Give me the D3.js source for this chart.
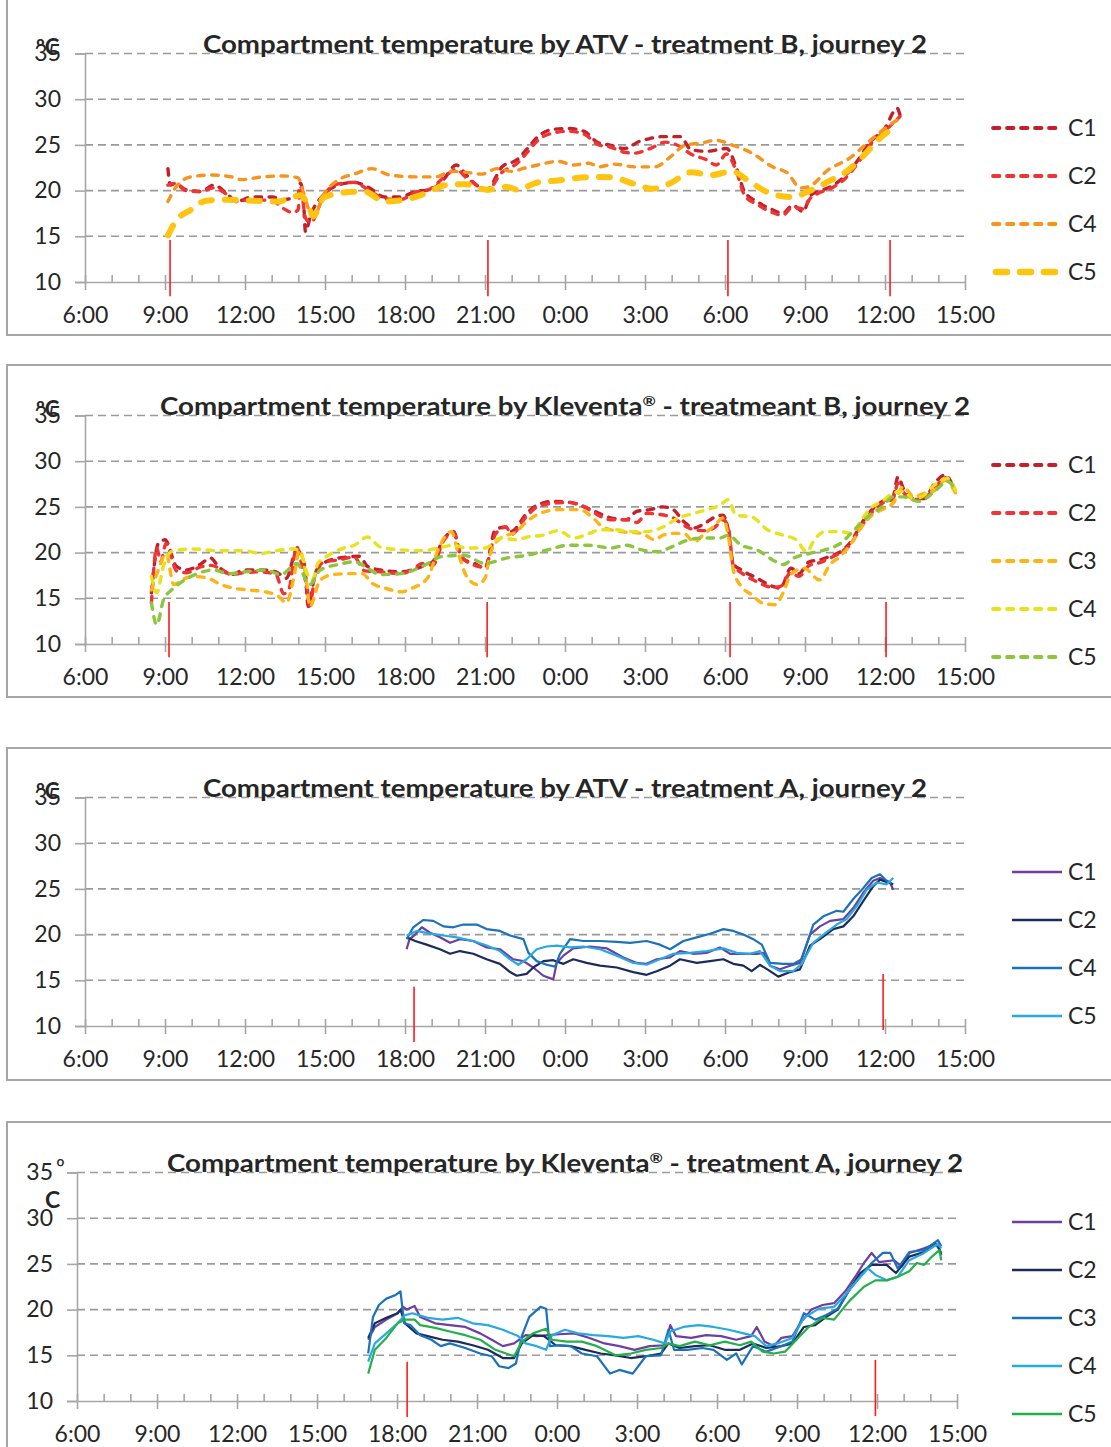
<!DOCTYPE html>
<html>
<head>
<meta charset="utf-8">
<script src="https://cdn.jsdelivr.net/npm/d3@7"></script>
<style>
  body { margin: 0; background: #fff; }
  svg { display: block; }
  text { font-family: Lato, "Open Sans", "Liberation Sans", sans-serif; fill: #262626; }
</style>
</head>
<body>
<svg id="chart" width="1111" height="1447"></svg>
<script>
// Axis ticks: hours counted from 0:00 of the first day (24+ = next day)
const hourTicks = [6, 9, 12, 15, 18, 21, 24, 27, 30, 33, 36, 39];
const minorHours = d3.range(6, 40).filter(h => h % 3 !== 0);
const tempTicks = [10, 15, 20, 25, 30, 35];

// ---- ATV, treatment B: [hour, °C]
const atvB_C1 = [[9.11,22.4],[9.2,20.6],[9.39,20.8],[9.78,20.1],[10.35,19.9],[10.83,20.6],[11.31,19.7],[11.69,18.8],[12.26,19.3],[13.03,19.3],[13.41,19.0],[13.99,19.5],[14.08,20.8],[14.18,19.5],[14.27,15.5],[14.46,17.3],[14.94,19.5],[15.33,20.4],[16.09,20.9],[16.66,20.3],[17.24,19.3],[17.81,19.3],[18.39,19.9],[18.96,20.1],[19.44,21.2],[19.92,22.8],[20.3,21.7],[20.68,20.6],[21.06,20.1],[21.64,22.6],[22.21,23.4],[22.59,24.6],[22.98,25.9],[23.55,26.7],[24.13,26.8],[24.7,26.5],[25.27,25.2],[25.66,25.0],[26.23,24.6],[26.8,25.4],[27.19,25.7],[27.57,25.9],[28.33,25.9],[28.72,24.5],[29.29,24.3],[30.06,24.6],[30.44,22.4],[30.73,19.9],[31.2,18.8],[31.78,17.9],[32.16,17.5],[32.54,18.4],[32.93,17.7],[33.21,19.5],[33.5,19.9],[34.07,20.6],[34.46,21.5],[35.03,23.5],[35.41,25.2],[35.99,26.8],[36.46,29.0],[36.56,28.3]];
const atvB_C2 = [[9.11,20.6],[9.39,20.8],[9.78,20.0],[10.35,19.9],[10.83,20.3],[11.31,19.6],[11.69,18.8],[12.26,19.0],[13.03,18.9],[13.41,18.1],[13.79,17.6],[13.99,17.9],[14.08,20.5],[14.27,17.0],[14.46,16.5],[14.94,19.3],[15.33,20.6],[16.09,20.9],[16.66,20.0],[17.24,19.1],[17.81,19.0],[18.39,19.8],[18.96,20.2],[19.44,21.4],[19.92,22.3],[20.3,21.4],[20.68,20.6],[21.06,20.0],[21.64,22.0],[22.21,23.0],[22.59,24.2],[22.98,25.5],[23.55,26.3],[24.13,26.5],[24.7,26.2],[25.27,25.0],[25.66,24.8],[26.23,24.2],[26.61,24.1],[27.19,24.6],[27.76,25.3],[28.33,24.8],[28.72,24.0],[29.29,23.4],[29.67,22.8],[30.06,24.0],[30.44,22.0],[30.73,19.5],[31.2,18.5],[31.78,17.6],[32.16,17.3],[32.54,18.2],[32.93,18.0],[33.21,19.2],[33.5,19.7],[34.07,20.4],[34.46,21.2],[35.03,23.2],[35.41,24.9],[35.99,26.5],[36.56,28.1]];
const atvB_C4 = [[9.11,18.8],[9.39,20.3],[9.97,21.5],[10.73,21.7],[11.5,21.5],[11.88,21.2],[12.65,21.5],[13.41,21.6],[13.99,21.4],[14.18,19.9],[14.37,18.1],[14.56,17.0],[14.94,19.5],[15.52,21.2],[16.09,21.8],[16.76,22.4],[17.43,21.7],[18.39,21.5],[19.15,21.5],[19.73,22.1],[20.3,22.0],[20.87,21.8],[21.45,22.4],[22.02,22.1],[22.4,22.4],[22.98,22.8],[23.74,23.2],[24.32,22.8],[24.89,23.0],[25.27,22.6],[25.85,22.9],[26.61,22.6],[27.38,22.6],[27.95,23.7],[28.53,25.0],[29.1,25.2],[29.67,25.5],[30.25,25.0],[31.01,24.1],[31.78,22.6],[32.35,21.9],[32.83,20.3],[33.12,20.4],[33.88,22.3],[34.65,23.5],[35.41,25.4],[35.99,26.8],[36.56,27.9]];
const atvB_C5 = [[9.11,15.1],[9.39,16.6],[9.97,17.9],[10.54,18.9],[11.31,19.0],[12.26,18.9],[13.22,18.8],[13.79,19.3],[14.08,19.5],[14.37,18.4],[14.56,17.2],[14.94,19.2],[15.71,19.8],[16.47,19.9],[17.24,18.8],[18.0,19.0],[18.77,19.7],[19.53,20.6],[20.3,20.7],[21.06,20.1],[21.83,20.4],[22.21,20.1],[22.98,20.9],[23.74,21.1],[24.51,21.4],[25.27,21.5],[25.85,21.4],[26.52,20.8],[27.28,20.2],[27.95,20.8],[28.72,22.0],[29.48,21.7],[30.25,22.1],[31.01,20.8],[31.78,19.6],[32.54,19.3],[33.12,19.9],[33.88,21.0],[34.65,22.3],[35.22,23.9],[35.8,25.7],[36.46,27.2]];
const atvB_marks = [9.19, 21.11, 30.11, 36.19];

// ---- Kleventa®, treatment B
const klvB_C1 = [[8.49,15.6],[8.75,21.0],[9.0,21.4],[9.43,18.5],[9.82,18.1],[10.31,18.7],[10.71,19.4],[11.0,18.5],[11.49,17.6],[11.98,18.1],[12.57,18.1],[13.16,17.9],[13.55,17.2],[13.94,20.3],[14.24,18.5],[14.37,14.1],[14.63,17.7],[14.92,18.8],[15.51,19.4],[16.3,19.6],[16.59,18.5],[17.08,18.1],[17.86,17.9],[18.26,18.1],[18.65,18.5],[19.04,19.0],[19.43,21.4],[19.82,22.3],[20.12,19.4],[20.61,18.8],[21.0,18.3],[21.39,22.5],[21.79,22.8],[21.98,22.3],[22.57,24.3],[22.96,25.2],[23.55,25.6],[24.14,25.5],[24.73,25.0],[25.12,24.5],[25.71,23.8],[26.3,23.6],[26.69,24.5],[27.18,24.7],[27.67,25.0],[28.06,24.7],[28.45,23.4],[28.84,22.7],[29.24,23.2],[29.63,23.9],[29.92,24.1],[30.12,22.5],[30.31,18.8],[30.61,18.1],[31.2,17.2],[31.79,16.3],[32.08,16.1],[32.47,18.3],[32.77,17.7],[33.16,19.0],[33.55,19.2],[33.94,19.6],[34.33,20.1],[34.73,21.2],[35.12,23.2],[35.51,24.7],[35.9,25.6],[36.3,26.1],[36.49,28.3],[36.69,27.0],[37.08,25.9],[37.47,25.9],[37.86,27.6],[38.26,28.5],[38.55,27.2]];
const klvB_C2 = [[8.49,14.5],[8.69,20.5],[8.84,19.0],[9.04,21.0],[9.24,19.5],[9.43,18.0],[9.82,17.8],[10.31,18.4],[10.71,18.6],[11.1,18.2],[11.49,17.6],[11.98,17.8],[12.57,17.9],[13.16,17.6],[13.45,15.5],[13.65,16.0],[13.84,19.5],[13.94,20.6],[14.14,18.5],[14.33,16.0],[14.43,14.2],[14.63,17.6],[14.92,18.9],[15.51,19.2],[16.1,19.5],[16.49,18.0],[17.08,17.9],[17.86,17.7],[18.26,18.1],[18.65,18.8],[19.04,18.6],[19.43,21.2],[19.82,22.2],[20.12,19.6],[20.61,18.6],[21.0,18.4],[21.39,22.0],[21.79,22.8],[21.98,22.0],[22.57,24.0],[22.96,25.0],[23.55,25.4],[24.14,25.5],[24.73,25.0],[25.12,24.3],[25.71,23.6],[26.3,23.6],[26.69,23.3],[27.08,24.3],[27.47,24.2],[28.06,23.8],[28.45,23.0],[28.84,22.5],[29.24,22.4],[29.63,22.8],[29.92,23.6],[30.12,22.8],[30.31,18.6],[30.61,17.8],[31.2,16.8],[31.79,16.2],[32.08,16.3],[32.47,17.8],[32.77,17.4],[33.16,18.6],[33.55,18.9],[33.94,19.4],[34.33,20.0],[34.73,21.0],[35.12,22.9],[35.51,24.4],[35.9,25.4],[36.3,25.9],[36.49,27.6],[36.69,26.6],[37.08,25.8],[37.47,26.0],[37.86,27.0],[38.26,28.2],[38.55,27.0]];
const klvB_C3 = [[8.49,15.9],[8.75,18.1],[9.04,19.9],[9.33,16.5],[9.63,17.0],[10.02,17.4],[10.61,17.2],[11.1,16.5],[11.59,16.1],[12.18,15.9],[12.77,15.7],[13.26,15.2],[13.55,14.5],[13.84,17.4],[14.04,20.3],[14.33,16.3],[14.43,14.1],[14.82,17.0],[15.31,17.6],[15.9,17.7],[16.39,17.7],[16.79,16.6],[17.28,16.1],[17.86,15.7],[18.26,16.1],[18.84,17.2],[19.24,20.3],[19.73,22.3],[20.02,19.7],[20.31,17.4],[20.71,16.5],[21.0,17.2],[21.2,19.9],[21.59,21.6],[22.18,22.3],[22.57,23.4],[23.06,24.3],[23.75,24.7],[24.53,24.7],[25.12,23.6],[25.41,22.8],[26.1,22.3],[26.88,22.1],[27.37,21.4],[27.67,21.9],[28.06,22.1],[28.45,22.1],[28.84,21.2],[29.24,22.1],[29.63,23.0],[29.92,23.8],[30.12,21.9],[30.31,18.1],[30.61,16.3],[31.0,15.4],[31.39,14.5],[31.88,14.3],[32.18,15.6],[32.47,17.6],[32.96,18.3],[33.55,17.0],[33.94,18.7],[34.33,19.6],[34.73,21.0],[35.12,22.8],[35.51,24.1],[35.9,24.7],[36.3,25.4],[36.69,27.2],[37.08,26.1],[37.47,26.5],[37.86,26.8],[38.26,27.9],[38.65,26.5]];
const klvB_C4 = [[8.49,17.4],[8.69,15.6],[8.94,18.5],[9.24,20.1],[10.02,20.4],[11.0,20.2],[11.98,20.2],[12.57,19.9],[13.16,20.2],[13.84,20.4],[14.14,19.6],[14.33,17.7],[14.53,17.0],[14.73,18.8],[15.12,19.7],[15.71,20.5],[16.1,20.8],[16.59,21.7],[17.08,20.6],[17.86,20.3],[18.65,20.2],[19.24,20.5],[19.82,20.8],[20.31,20.5],[21.0,20.5],[21.59,21.6],[22.18,21.4],[22.57,21.7],[23.16,21.9],[23.75,22.4],[24.33,21.6],[24.92,22.1],[25.31,22.5],[25.9,22.5],[26.49,22.3],[27.08,22.3],[27.67,22.8],[28.26,23.8],[28.84,24.3],[29.43,24.8],[29.82,25.2],[30.12,25.8],[30.41,24.1],[31.0,23.9],[31.59,22.5],[32.18,21.9],[32.67,21.4],[33.06,20.1],[33.35,21.4],[33.75,22.3],[34.33,22.3],[34.73,22.1],[35.12,23.6],[35.51,25.0],[35.9,25.6],[36.3,26.5],[36.69,26.7],[37.08,25.8],[37.47,26.3],[37.86,27.4],[38.35,28.1],[38.65,26.8]];
const klvB_C5 = [[8.49,14.5],[8.69,12.1],[8.94,14.8],[9.24,15.9],[9.63,16.8],[10.22,17.7],[10.81,18.1],[11.39,17.7],[11.98,17.9],[12.77,18.1],[13.35,17.6],[13.94,18.8],[14.43,16.5],[14.82,18.1],[15.51,18.7],[16.1,19.0],[16.49,18.5],[17.08,17.6],[17.86,17.7],[18.65,18.5],[19.43,19.6],[20.22,19.7],[21.0,18.8],[21.79,19.4],[22.57,19.7],[23.35,20.3],[24.14,20.8],[24.92,20.8],[25.71,20.5],[26.3,20.8],[26.88,20.3],[27.47,20.1],[28.06,20.7],[28.65,21.4],[29.24,21.6],[29.82,21.6],[30.12,21.9],[30.61,20.8],[31.2,20.3],[31.79,19.2],[32.18,18.7],[32.57,19.4],[33.16,19.9],[33.75,20.3],[34.33,21.0],[34.92,22.7],[35.51,24.3],[35.9,25.0],[36.3,26.1],[36.69,26.1],[37.28,25.6],[37.86,26.7],[38.35,27.8],[38.65,26.7]];
const klvB_marks = [9.15, 21.08, 30.19, 36.04];

// ---- ATV, treatment A
const atvA_C1 = [[18.06,18.4],[18.17,19.5],[18.38,20.0],[18.63,20.8],[18.94,20.2],[19.31,19.7],[19.69,19.1],[20.06,19.5],[20.56,19.3],[21.06,18.6],[21.56,18.4],[22.06,17.3],[22.44,17.1],[22.81,16.4],[23.19,15.5],[23.56,15.1],[23.69,16.9],[23.94,17.7],[24.31,18.5],[24.94,18.7],[25.56,18.5],[26.19,17.5],[26.69,16.9],[27.06,16.8],[27.44,17.3],[27.94,17.5],[28.31,18.2],[28.81,17.9],[29.31,18.0],[29.81,18.6],[30.19,17.9],[30.69,17.9],[31.19,17.9],[31.44,18.0],[31.69,16.6],[32.06,16.2],[32.44,16.6],[32.81,16.9],[33.19,20.0],[33.56,20.9],[33.94,21.5],[34.44,21.7],[34.81,22.9],[35.19,24.6],[35.56,25.9],[35.81,26.2],[36.19,25.7],[36.31,24.9]];
const atvA_C2 = [[18.06,19.7],[18.38,19.3],[18.81,18.9],[19.31,18.4],[19.69,17.9],[20.06,18.2],[20.56,17.9],[21.06,17.3],[21.56,16.8],[21.94,15.9],[22.19,15.5],[22.56,15.7],[22.81,16.4],[23.19,17.1],[23.56,17.2],[23.94,16.8],[24.31,17.3],[24.81,16.9],[25.31,16.6],[25.94,16.4],[26.56,15.9],[27.06,15.6],[27.44,16.0],[27.94,16.6],[28.31,17.3],[28.94,16.9],[29.44,17.1],[29.94,17.3],[30.31,16.8],[30.69,16.6],[31.0,16.0],[31.31,16.7],[31.69,16.0],[32.0,15.4],[32.44,15.9],[32.81,16.2],[33.19,18.8],[33.56,19.5],[34.06,20.6],[34.44,20.9],[34.81,22.0],[35.19,23.7],[35.56,25.3],[35.81,26.0],[36.31,25.5]];
const atvA_C4 = [[18.06,19.5],[18.31,20.8],[18.69,21.6],[19.06,21.5],[19.44,20.9],[19.81,20.8],[20.19,21.1],[20.69,21.1],[21.06,20.6],[21.56,20.4],[21.94,19.9],[22.44,19.5],[22.63,18.0],[22.94,17.1],[23.31,16.7],[23.63,16.5],[23.81,17.9],[24.19,19.5],[24.69,19.3],[25.31,19.3],[25.94,19.2],[26.44,19.1],[27.06,19.3],[27.56,18.9],[27.94,18.4],[28.44,19.3],[28.94,19.7],[29.44,20.1],[29.94,20.6],[30.31,20.4],[30.69,20.0],[31.06,19.5],[31.38,18.9],[31.69,16.9],[32.19,16.8],[32.56,16.8],[32.88,17.3],[33.31,21.1],[33.69,22.0],[34.19,22.6],[34.44,22.5],[34.81,23.9],[35.19,25.1],[35.5,26.2],[35.81,26.6],[36.06,25.9],[36.25,25.6]];
const atvA_C5 = [[18.06,19.9],[18.44,20.4],[18.94,20.1],[19.44,19.9],[19.94,19.7],[20.56,19.3],[21.06,18.8],[21.56,18.2],[21.94,17.3],[22.25,16.7],[22.56,17.3],[22.94,18.4],[23.31,18.7],[23.69,18.8],[24.19,18.6],[24.69,18.7],[25.31,18.4],[25.94,17.7],[26.56,16.9],[27.06,16.7],[27.56,17.3],[28.06,17.9],[28.69,18.0],[29.31,18.2],[29.94,18.5],[30.44,18.0],[30.94,17.9],[31.31,18.2],[31.69,16.6],[32.06,16.0],[32.56,16.0],[32.88,16.8],[33.31,19.1],[33.69,20.0],[34.19,21.1],[34.56,21.7],[34.94,23.1],[35.31,24.9],[35.69,25.7],[36.06,25.5],[36.31,26.2]];
const atvA_marks = [18.34, 35.93];

// ---- Kleventa®, treatment A
const klvA_C1 = [[16.92,16.7],[17.17,18.1],[17.6,18.9],[18.02,19.6],[18.23,20.3],[18.37,20.0],[18.66,20.4],[18.87,19.2],[19.43,18.5],[19.98,18.3],[20.56,18.1],[21.12,17.4],[21.55,16.7],[21.97,16.0],[22.39,16.3],[22.82,17.2],[23.24,17.1],[23.66,17.2],[24.09,17.3],[24.65,17.4],[25.22,16.9],[25.78,16.3],[26.34,16.0],[26.91,15.6],[27.47,16.0],[28.04,16.1],[28.25,18.3],[28.46,17.1],[29.03,16.9],[29.59,17.2],[30.15,17.1],[30.72,16.7],[31.28,17.1],[31.49,18.1],[31.78,16.5],[32.13,16.0],[32.41,16.9],[32.83,17.1],[33.12,18.5],[33.54,20.0],[33.96,20.5],[34.39,20.7],[34.81,22.0],[35.23,23.8],[35.51,25.1],[35.8,26.2],[36.08,25.2],[36.64,25.4],[36.93,24.7],[37.21,26.2],[37.77,26.7],[38.2,27.2],[38.41,26.2]];
const klvA_C2 = [[16.92,16.9],[17.17,18.5],[17.6,19.1],[18.02,19.6],[18.13,20.0],[18.3,18.5],[18.73,17.4],[19.15,17.1],[19.71,16.7],[20.28,16.5],[20.84,16.1],[21.41,15.6],[21.97,14.7],[22.39,14.7],[22.68,16.3],[23.1,17.2],[23.52,17.1],[23.95,16.1],[24.51,16.0],[25.07,15.6],[25.64,15.2],[26.2,15.0],[26.77,14.7],[27.33,14.9],[27.9,15.2],[28.18,16.3],[28.6,15.8],[29.17,16.0],[29.73,16.1],[30.29,15.6],[30.86,15.6],[31.35,16.3],[31.85,15.8],[32.41,16.0],[32.83,16.3],[33.26,18.1],[33.68,18.3],[34.1,19.2],[34.53,20.0],[34.95,22.1],[35.37,24.0],[35.8,24.9],[36.36,24.9],[36.71,24.0],[37.21,25.8],[37.77,26.3],[38.27,27.2],[38.41,26.0]];
const klvA_C3 = [[16.92,15.2],[17.1,19.2],[17.32,20.5],[17.6,21.2],[17.95,21.6],[18.13,22.0],[18.27,18.5],[18.51,18.3],[18.87,17.2],[19.29,16.7],[19.64,16.0],[19.98,16.3],[20.56,15.8],[21.12,15.2],[21.55,14.9],[21.83,13.8],[22.18,13.6],[22.46,14.1],[22.68,17.1],[22.96,19.2],[23.38,20.3],[23.59,20.1],[23.73,16.0],[24.09,16.1],[24.51,16.0],[24.93,15.2],[25.5,14.9],[25.99,13.0],[26.34,13.4],[26.84,13.0],[27.33,14.9],[27.9,15.0],[28.18,17.8],[28.39,15.6],[28.88,15.6],[29.45,15.8],[29.87,15.6],[30.37,14.5],[30.72,15.2],[30.93,14.0],[31.35,16.0],[31.85,15.4],[32.41,16.0],[32.83,16.5],[33.26,19.6],[33.68,18.9],[34.1,19.4],[34.53,20.1],[34.95,22.1],[35.37,23.6],[35.8,25.1],[36.22,26.2],[36.5,26.2],[36.78,24.5],[37.21,26.3],[37.77,26.5],[38.29,27.6],[38.41,26.9]];
const klvA_C4 = [[16.92,14.3],[17.17,16.3],[17.6,17.4],[18.02,18.5],[18.3,19.4],[18.58,19.6],[19.15,19.1],[19.71,18.9],[20.28,19.1],[20.84,18.5],[21.41,18.3],[21.97,17.8],[22.54,17.1],[22.82,16.3],[23.24,16.0],[23.59,15.6],[23.81,17.2],[24.3,17.8],[24.79,17.4],[25.36,17.2],[25.92,17.1],[26.49,16.9],[27.05,17.1],[27.61,16.7],[28.04,16.3],[28.25,17.6],[28.74,18.1],[29.31,18.3],[29.87,18.1],[30.44,17.8],[31.0,17.4],[31.42,17.1],[31.85,16.0],[32.27,16.3],[32.83,16.9],[33.26,19.1],[33.82,20.1],[34.39,20.3],[34.81,21.6],[35.23,23.1],[35.66,24.5],[35.94,23.8],[36.36,23.2],[36.78,23.6],[37.21,25.4],[37.77,26.2],[38.27,27.2],[38.41,26.7]];
const klvA_C5 = [[16.92,13.0],[17.17,15.6],[17.6,16.9],[18.02,18.5],[18.3,18.9],[18.66,18.9],[18.87,18.3],[19.43,18.0],[19.98,17.6],[20.56,17.2],[21.12,16.7],[21.69,15.6],[22.39,14.9],[22.68,16.5],[23.1,17.4],[23.59,17.9],[23.81,16.7],[24.37,16.5],[24.93,16.5],[25.5,16.0],[26.2,15.0],[26.77,15.2],[27.33,15.6],[27.9,15.8],[28.18,16.3],[28.6,16.0],[29.17,16.5],[29.73,16.1],[30.29,16.5],[30.86,16.1],[31.28,16.5],[31.71,15.4],[32.13,15.2],[32.55,15.4],[32.98,16.7],[33.4,18.0],[33.96,19.1],[34.39,18.9],[34.95,20.9],[35.51,22.5],[35.94,23.2],[36.36,23.2],[36.78,23.6],[37.21,24.2],[37.49,25.1],[37.77,24.9],[38.06,25.8],[38.34,26.5],[38.41,25.4]];
const klvA_marks = [18.38, 35.94];

// Panel layout and styling
const dashThin = "6.5,7.5", dashThick = "11,13";
const panels = [
  { title: ["Compartment temperature by ATV - treatment B, journey 2"], titleW: 724,
    frameY: -10, frameH: 345, left: 85, base: 282, smooth: true,
    unit: "p1", marks: atvB_marks, markSpan: [[14.6, 8.45]],
    legendX: [993, 1060], legendY: 128,
    series: [
      { name: "C1", data: atvB_C1, color: "#c3202b", width: 3.4, dash: dashThin },
      { name: "C2", data: atvB_C2, color: "#ef3434", width: 3.4, dash: dashThin },
      { name: "C4", data: atvB_C4, color: "#f7941e", width: 3.4, dash: dashThin },
      { name: "C5", data: atvB_C5, color: "#ffc40f", width: 6, dash: dashThick } ] },
  { title: ["Compartment temperature by Kleventa", "®", " - treatmeant B, journey 2"], titleW: 810,
    frameY: 365, frameH: 332, left: 85, base: 644, smooth: true,
    unit: "p1", marks: klvB_marks, markSpan: [[14.6, 8.55]],
    legendX: [993, 1060], legendY: 465,
    series: [
      { name: "C1", data: klvB_C1, color: "#c3202b", width: 3.4, dash: dashThin },
      { name: "C2", data: klvB_C2, color: "#ef3434", width: 3.4, dash: dashThin },
      { name: "C3", data: klvB_C3, color: "#fdb515", width: 3.4, dash: dashThin },
      { name: "C4", data: klvB_C4, color: "#e8e21c", width: 3.4, dash: dashThin },
      { name: "C5", data: klvB_C5, color: "#8cc63f", width: 3.4, dash: dashThin } ] },
  { title: ["Compartment temperature by ATV - treatment A, journey 2"], titleW: 724,
    frameY: 748, frameH: 332, left: 85, base: 1026, smooth: false,
    unit: "p1", marks: atvA_marks, markSpan: [[14.3, 8.25], [15.7, 9.55]],
    legendX: [1012, 1062], legendY: 872,
    series: [
      { name: "C1", data: atvA_C1, color: "#6c3fa0", width: 2.2 },
      { name: "C2", data: atvA_C2, color: "#1d2b5b", width: 2.2 },
      { name: "C4", data: atvA_C4, color: "#1a72b9", width: 2.2 },
      { name: "C5", data: atvA_C5, color: "#27aae1", width: 2.2 } ] },
  { title: ["Compartment temperature by Kleventa", "®", " - treatment A, journey 2"], titleW: 796,
    frameY: 1122, frameH: 340, left: 77, base: 1401, smooth: false,
    unit: "p4", marks: klvA_marks, markSpan: [[14.3, 8.25], [14.5, 8.35]],
    legendX: [1012, 1062], legendY: 1222,
    series: [
      { name: "C1", data: klvA_C1, color: "#6c3fa0", width: 2.2 },
      { name: "C2", data: klvA_C2, color: "#1d2b5b", width: 2.2 },
      { name: "C3", data: klvA_C3, color: "#1a72b9", width: 2.2 },
      { name: "C4", data: klvA_C4, color: "#27aae1", width: 2.2 },
      { name: "C5", data: klvA_C5, color: "#22b04b", width: 2.2 } ] }
];

const svg = d3.select("#chart");
const fmtHour = h => (h % 24) + ":00";
const axisGrey = "#a6a6a6";

function drawPanel(p) {
  const g = svg.append("g");
  const x = d3.scaleLinear().domain([6, 39]).range([p.left, p.left + 880]);
  const y = d3.scaleLinear().domain([10, 35]).range([p.base, p.base - 228.5]);

  // outer frame
  g.append("rect").attr("x", 7).attr("y", p.frameY).attr("width", 1130).attr("height", p.frameH)
    .attr("fill", "none").attr("stroke", axisGrey).attr("stroke-width", 2);

  // dashed horizontal gridlines
  g.append("g").selectAll("line").data(tempTicks.filter(t => t > 10)).join("line")
    .attr("x1", p.left).attr("x2", x(39)).attr("y1", d => y(d)).attr("y2", d => y(d))
    .attr("stroke", "#9a9a9a").attr("stroke-width", 1.6).attr("stroke-dasharray", "8,5");

  // y axis
  const yAxis = g.append("g").attr("transform", `translate(${p.left},0)`)
    .call(d3.axisLeft(y).tickValues(tempTicks).tickSize(10).tickPadding(14));
  yAxis.select(".domain").attr("stroke", axisGrey).attr("stroke-width", 1.6);
  yAxis.selectAll(".tick line").attr("stroke", axisGrey).attr("stroke-width", 1.6);
  yAxis.selectAll(".tick text").attr("font-size", 23).attr("font-family", "Lato").attr("fill", "#262626");

  // x axis, major ticks crossing the axis line
  const xAxis = g.append("g").attr("transform", `translate(0,${p.base})`)
    .call(d3.axisBottom(x).tickValues(hourTicks).tickFormat(fmtHour).tickSizeOuter(0).tickSizeInner(8).tickPadding(17));
  xAxis.select(".domain").attr("stroke", axisGrey).attr("stroke-width", 1.6);
  xAxis.selectAll(".tick line").attr("stroke", axisGrey).attr("stroke-width", 1.6).attr("y1", -7);
  xAxis.selectAll(".tick text").attr("font-size", 23).attr("font-family", "Lato").attr("fill", "#262626");
  // minor hourly ticks, inside
  g.append("g").attr("transform", `translate(0,${p.base})`)
    .call(d3.axisBottom(x).tickValues(minorHours).tickFormat("").tickSizeOuter(0).tickSizeInner(-7))
    .call(a => a.select(".domain").remove())
    .selectAll(".tick line").attr("stroke", axisGrey).attr("stroke-width", 1.6);

  // red time markers
  g.append("g").selectAll("line").data(p.marks).join("line")
    .attr("x1", d => x(d)).attr("x2", d => x(d))
    .attr("y1", (d, i) => y((p.markSpan[i] || p.markSpan[0])[0]))
    .attr("y2", (d, i) => y((p.markSpan[i] || p.markSpan[0])[1]))
    .attr("stroke", "#ff1a1a").attr("stroke-width", 1.6);

  // unit label (sits over the top tick label, as in the original layout)
  if (p.unit === "p1") {
    g.append("text").attr("x", 36).attr("y", y(35) + 1).attr("font-size", 22).attr("font-weight", 700).text("ºC");
  } else {
    g.append("text").attr("x", 56).attr("y", y(35) + 2).attr("font-size", 22).text("º");
    g.append("text").attr("x", 45).attr("y", y(35) + 35).attr("font-size", 23).attr("font-weight", 700).text("C");
  }

  // title
  const t = g.append("text").attr("x", 565).attr("y", y(35) - 1).attr("text-anchor", "middle")
    .attr("font-size", 24).attr("font-weight", 700)
    .attr("textLength", p.titleW).attr("lengthAdjust", "spacingAndGlyphs");
  p.title.forEach((s, i) => {
    const ts = t.append("tspan").text(s);
    if (s === "®") ts.attr("font-size", 14).attr("dy", -9);
    else if (i > 0 && p.title[i - 1] === "®") ts.attr("dy", 9);
  });

  // series lines
  const line = d3.line().x(d => x(d[0])).y(d => y(d[1]))
    .curve(p.smooth ? d3.curveMonotoneX : d3.curveLinear);
  p.series.forEach(s => {
    g.append("path").datum(s.data).attr("d", line)
      .attr("fill", "none").attr("stroke", s.color).attr("stroke-width", s.width)
      .attr("stroke-linejoin", "round")
      .attr("stroke-linecap", s.dash ? "round" : "butt")
      .attr("stroke-dasharray", s.dash || null);
  });

  // legend
  const lg = g.append("g").selectAll("g").data(p.series).join("g")
    .attr("transform", (d, i) => `translate(0,${p.legendY + i * 48})`);
  lg.append("line").attr("x1", d => p.legendX[0] + (d.width > 5 ? 3 : 0)).attr("x2", p.legendX[1])
    .attr("stroke", d => d.color).attr("stroke-width", d => d.width + 0.4)
    .attr("stroke-linecap", d => d.dash ? "round" : "butt")
    .attr("stroke-dasharray", d => d.dash || null);
  lg.append("text").attr("x", 1068).attr("y", 8).attr("font-size", 23).text(d => d.name);
}

panels.forEach(drawPanel);
</script>
</body>
</html>
